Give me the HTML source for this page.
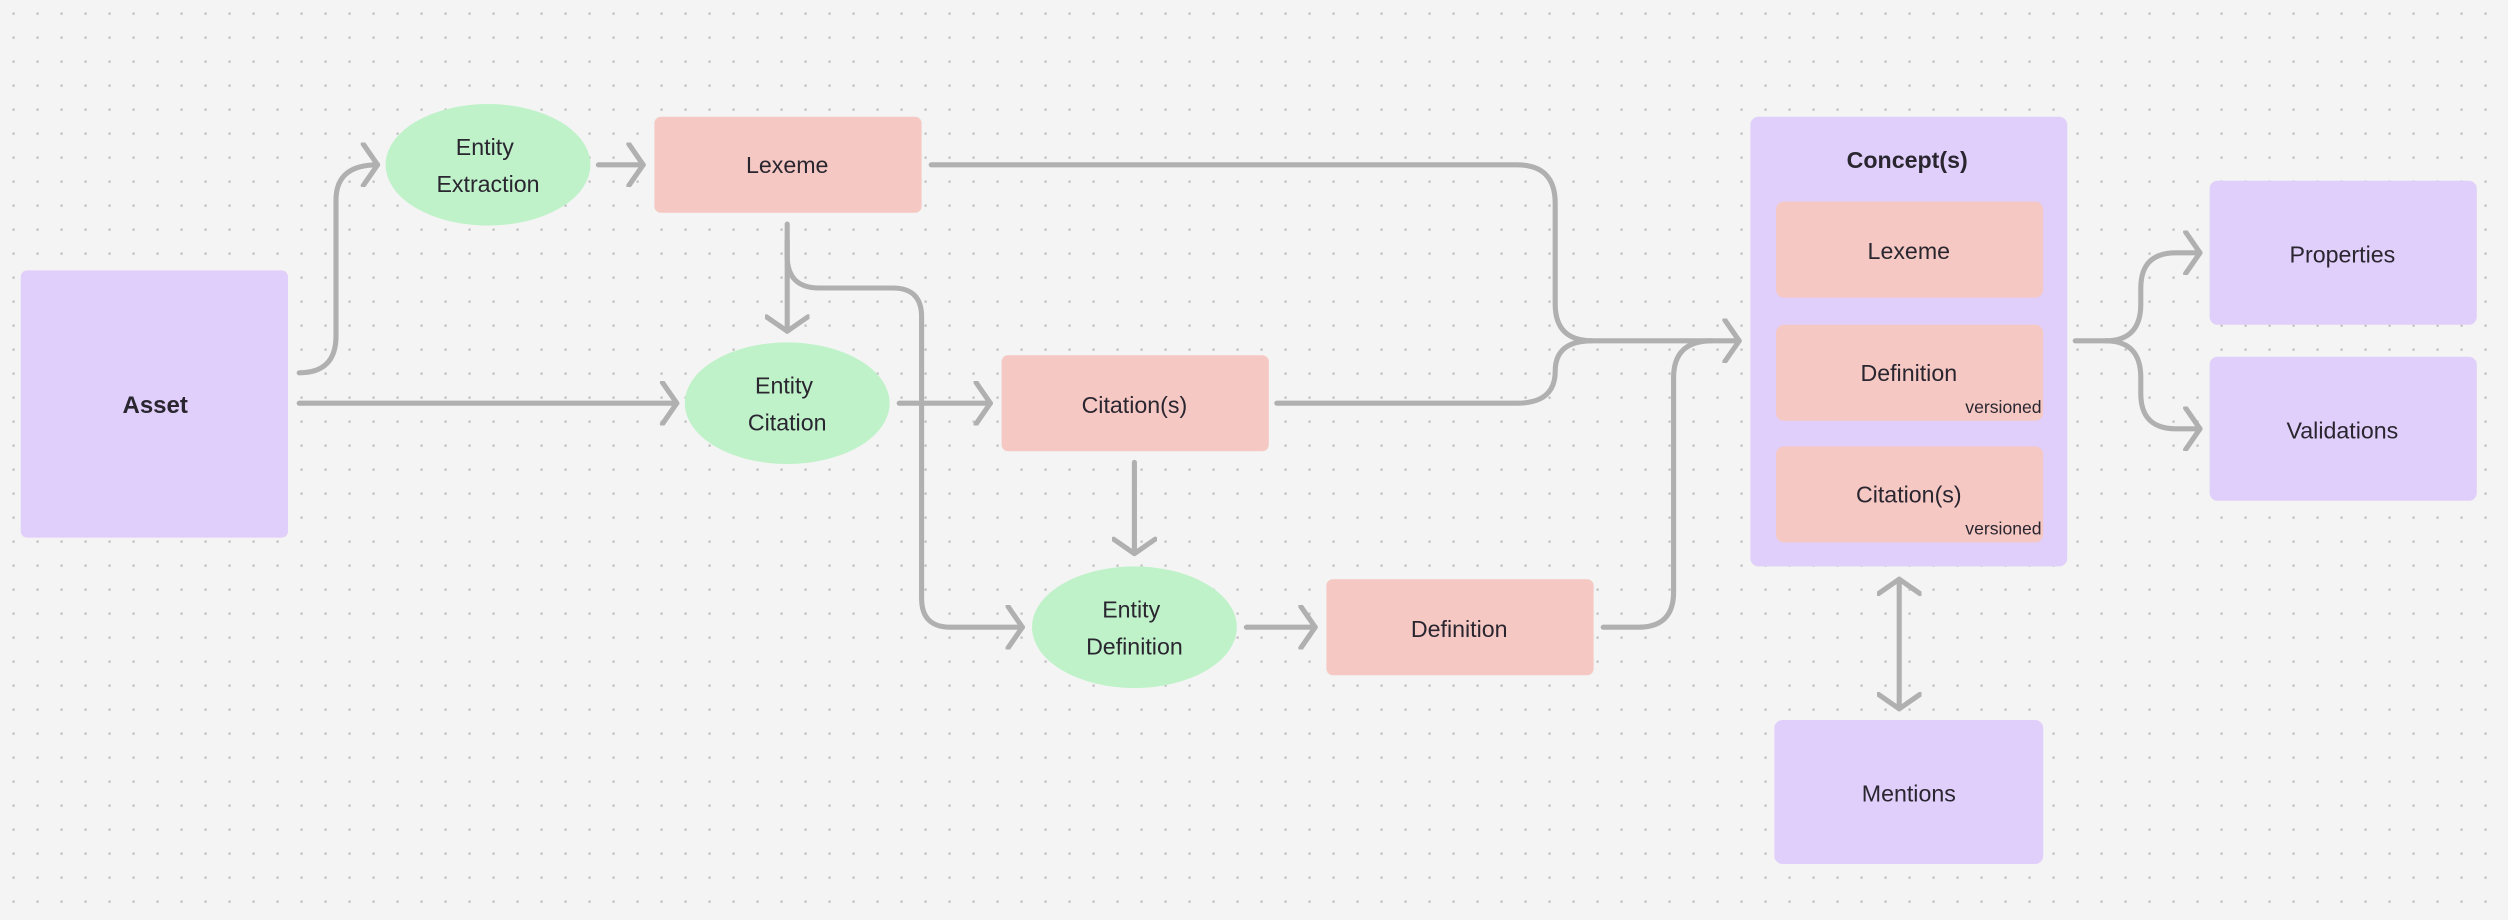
<!DOCTYPE html>
<html><head><meta charset="utf-8"><style>
html,body{margin:0;padding:0;background:#f4f4f4;}
svg{display:block;}
text{font-family:"Liberation Sans",sans-serif;fill:#2a2630;}
</style></head><body>
<svg width="2508" height="920" viewBox="0 0 1567.5 575" xmlns="http://www.w3.org/2000/svg">
<defs>
<pattern id="dots" x="4" y="4" width="15" height="15" patternUnits="userSpaceOnUse">
<circle cx="4.5" cy="4.5" r="0.8" fill="#c4c4c4"/>
</pattern>
<marker id="ah" viewBox="-14 -14 28 28" markerWidth="28" markerHeight="28" refX="0" refY="0" orient="auto" markerUnits="userSpaceOnUse">
<path d="M-9,-13 L0,0 L-9,13" fill="none" stroke="#b0b0b0" stroke-width="3.2" stroke-linecap="round" stroke-linejoin="round"/>
</marker>
<marker id="as" viewBox="-14 -14 28 28" markerWidth="28" markerHeight="28" refX="0" refY="0" orient="auto-start-reverse" markerUnits="userSpaceOnUse">
<path d="M-9,-13 L0,0 L-9,13" fill="none" stroke="#b0b0b0" stroke-width="3.2" stroke-linecap="round" stroke-linejoin="round"/>
</marker>
</defs>
<rect width="1567.5" height="575" fill="#f4f4f4"/>
<rect width="1567.5" height="575" fill="url(#dots)"/>

<g fill="none" stroke="#b0b0b0" stroke-width="3.2" stroke-linecap="round">
<path d="M187,233 Q210,233 210,210 V125 Q210,103 236,103" marker-end="url(#ah)"/>
<path d="M187,252 H423" marker-end="url(#ah)"/>
<path d="M374,103 H402" marker-end="url(#ah)"/>
<path d="M492,140 V207" marker-end="url(#ah)"/>
<path d="M492,150 V160 Q492,180 512,180 H558 Q576,180 576,198 V374 Q576,392 594,392 H639" marker-end="url(#ah)"/>
<path d="M562,252 H619" marker-end="url(#ah)"/>
<path d="M709,289 V346" marker-end="url(#ah)"/>
<path d="M779,392 H822" marker-end="url(#ah)"/>
<path d="M582,103 H948 Q972,103 972,127 V190 Q972,213 995,213 H1087" marker-end="url(#ah)"/>
<path d="M798,252 H948 Q972,252 972,232 Q972,213 995,213"/>
<path d="M1002,392 H1024 Q1046,392 1046,370 V236 Q1046,213 1070,213"/>
<path d="M1297,213 H1316 Q1338,213 1338,190 V180 Q1338,158 1360,158 H1375" marker-end="url(#ah)"/>
<path d="M1316,213 Q1338,213 1338,236 V246 Q1338,268 1360,268 H1375" marker-end="url(#ah)"/>
<path d="M1187,362 V443" marker-start="url(#as)" marker-end="url(#as)"/>
</g>

<rect x="13" y="169" width="167" height="167" rx="4" fill="#e0cffa"/>
<text x="97" y="258" font-size="15" font-weight="bold" text-anchor="middle">Asset</text>

<ellipse cx="305" cy="103" rx="64" ry="38" fill="#bff2c9"/>
<text x="303" y="97" font-size="14.5" text-anchor="middle">Entity</text>
<text x="305" y="120" font-size="14.5" text-anchor="middle">Extraction</text>

<rect x="409" y="73" width="167" height="60" rx="4" fill="#f5c8c3"/>
<text x="492" y="108" font-size="14.5" text-anchor="middle">Lexeme</text>

<ellipse cx="492" cy="252" rx="64" ry="38" fill="#bff2c9"/>
<text x="490" y="246" font-size="14.5" text-anchor="middle">Entity</text>
<text x="492" y="269" font-size="14.5" text-anchor="middle">Citation</text>

<rect x="626" y="222" width="167" height="60" rx="4" fill="#f5c8c3"/>
<text x="709" y="258" font-size="14.5" text-anchor="middle">Citation(s)</text>

<ellipse cx="709" cy="392" rx="64" ry="38" fill="#bff2c9"/>
<text x="707" y="386" font-size="14.5" text-anchor="middle">Entity</text>
<text x="709" y="409" font-size="14.5" text-anchor="middle">Definition</text>

<rect x="829" y="362" width="167" height="60" rx="4" fill="#f5c8c3"/>
<text x="912" y="398" font-size="14.5" text-anchor="middle">Definition</text>

<rect x="1094" y="73" width="198" height="281" rx="5" fill="#e0cffa"/>
<text x="1192" y="105" font-size="14.5" font-weight="bold" text-anchor="middle">Concept(s)</text>
<rect x="1110" y="126" width="167" height="60" rx="5" fill="#f5c8c3"/>
<text x="1193" y="162" font-size="14.5" text-anchor="middle">Lexeme</text>
<rect x="1110" y="203" width="167" height="60" rx="5" fill="#f5c8c3"/>
<text x="1193" y="238" font-size="14.5" text-anchor="middle">Definition</text>
<text x="1276" y="258" font-size="11" text-anchor="end">versioned</text>
<rect x="1110" y="279" width="167" height="60" rx="5" fill="#f5c8c3"/>
<text x="1193" y="314" font-size="14.5" text-anchor="middle">Citation(s)</text>
<text x="1276" y="334" font-size="11" text-anchor="end">versioned</text>

<rect x="1381" y="113" width="167" height="90" rx="5" fill="#e0cffa"/>
<text x="1464" y="164" font-size="14.5" text-anchor="middle">Properties</text>
<rect x="1381" y="223" width="167" height="90" rx="5" fill="#e0cffa"/>
<text x="1464" y="274" font-size="14.5" text-anchor="middle">Validations</text>

<rect x="1109" y="450" width="168" height="90" rx="5" fill="#e0cffa"/>
<text x="1193" y="501" font-size="14.5" text-anchor="middle">Mentions</text>
</svg>
</body></html>
